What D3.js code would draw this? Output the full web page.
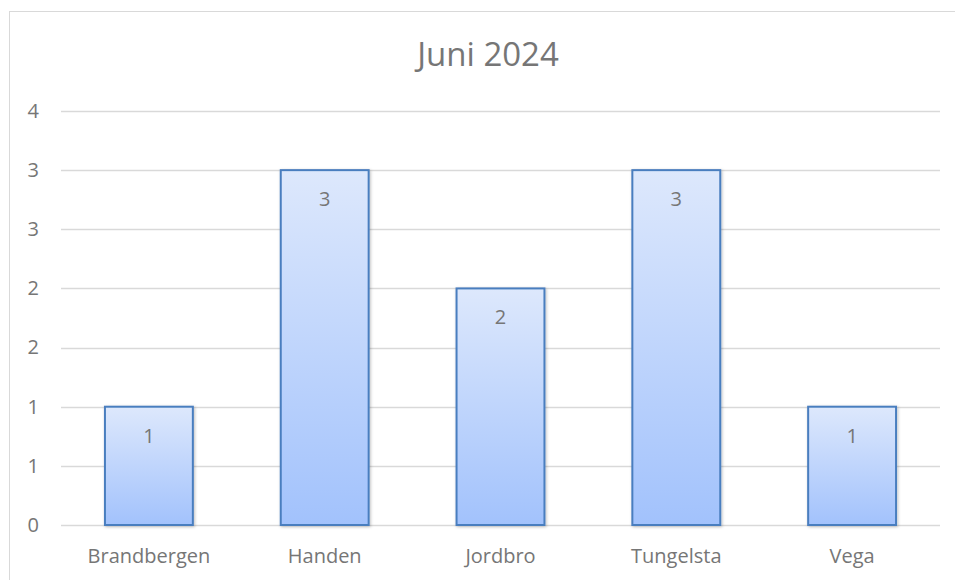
<!DOCTYPE html>
<html>
<head>
  <meta charset="utf-8">
  <title>Juni 2024</title>
  <style>
    body { margin: 0; background: #fff; }
    text { font-family: "Open Sans", "Liberation Sans", sans-serif; fill: #767676; }
  </style>
</head>
<body>
  <script src="https://cdn.jsdelivr.net/npm/d3@7/dist/d3.min.js"></script>
  <script>
    // chart data
    var categories = ["Brandbergen", "Handen", "Jordbro", "Tungelsta", "Vega"];
    var values = [1, 3, 2, 3, 1];
    var yTicks = [0, 0.5, 1, 1.5, 2, 2.5, 3, 3.5];
    var title = "Juni 2024";

    var W = 955, H = 580;
    var svg = d3.select("body").append("svg").attr("width", W).attr("height", H);

    // gradient + shadow like the spreadsheet bars
    var defs = svg.append("defs");
    var grad = defs.append("linearGradient").attr("id", "barGrad")
      .attr("x1", 0).attr("y1", 0).attr("x2", 0).attr("y2", 1);
    grad.append("stop").attr("offset", "0%").attr("stop-color", "#dde8fc");
    grad.append("stop").attr("offset", "100%").attr("stop-color", "#a2c2fc");
    var f = defs.append("filter").attr("id", "shadow")
      .attr("x", "-10%").attr("y", "-10%").attr("width", "130%").attr("height", "130%");
    f.append("feDropShadow").attr("dx", 1).attr("dy", 1).attr("stdDeviation", 1.5)
      .attr("flood-color", "#000").attr("flood-opacity", 0.25);

    // outer chart border (runs off right/bottom)
    svg.append("rect").attr("x", 9.5).attr("y", 11.5)
      .attr("width", 1000).attr("height", 700)
      .attr("fill", "none").attr("stroke", "#d9d9d9").attr("stroke-width", 1);

    var plotLeft = 61, plotRight = 940, plotTop = 111, plotBottom = 525;

    var x = d3.scaleBand().domain(categories).range([plotLeft, plotRight]).paddingInner(0.5).paddingOuter(0.25);
    var y = d3.scaleLinear().domain([0, 3.5]).range([plotBottom, plotTop]);

    // gridlines
    svg.append("g").selectAll("line").data(yTicks).enter().append("line")
      .attr("x1", plotLeft).attr("x2", plotRight)
      .attr("y1", function(d) { return Math.round(y(d)) + 0.5; })
      .attr("y2", function(d) { return Math.round(y(d)) + 0.5; })
      .attr("stroke", "#d9d9d9").attr("stroke-width", 1.3);

    // y axis labels (rounded to whole numbers like the original)
    var yAxis = d3.axisLeft(y).tickValues(yTicks).tickSize(0).tickPadding(0)
      .tickFormat(function(d) { return String(Math.round(d)); });
    var ya = svg.append("g").attr("transform", "translate(39,0)").call(yAxis);
    ya.select(".domain").remove();
    ya.selectAll("text").style("font-size", "20px").attr("fill", "#767676");

    // bars
    svg.append("g").selectAll("rect").data(values).enter().append("rect")
      .attr("x", function(d, i) { return x(categories[i]); })
      .attr("y", function(d) { return y(d); })
      .attr("width", x.bandwidth())
      .attr("height", function(d) { return y(0) - y(d); })
      .attr("fill", "url(#barGrad)")
      .attr("stroke", "#4a7ebf").attr("stroke-width", 2)
      .attr("filter", "url(#shadow)");

    // data labels
    svg.append("g").selectAll("text").data(values).enter().append("text")
      .attr("x", function(d, i) { return x(categories[i]) + x.bandwidth() / 2; })
      .attr("y", function(d) { return y(d) + 36; })
      .attr("text-anchor", "middle")
      .style("font-size", "20px")
      .text(function(d) { return d; });

    // x axis labels
    var xAxis = d3.axisBottom(x).tickSize(0).tickPadding(0);
    var xa = svg.append("g").attr("transform", "translate(0," + 549 + ")").call(xAxis);
    xa.select(".domain").remove();
    xa.selectAll("text").style("font-size", "20px").attr("fill", "#767676");

    // title
    svg.append("text").attr("x", 488).attr("y", 66)
      .attr("text-anchor", "middle")
      .style("font-size", "33px").style("fill", "#767676")
      .text(title);
  </script>
</body>
</html>
